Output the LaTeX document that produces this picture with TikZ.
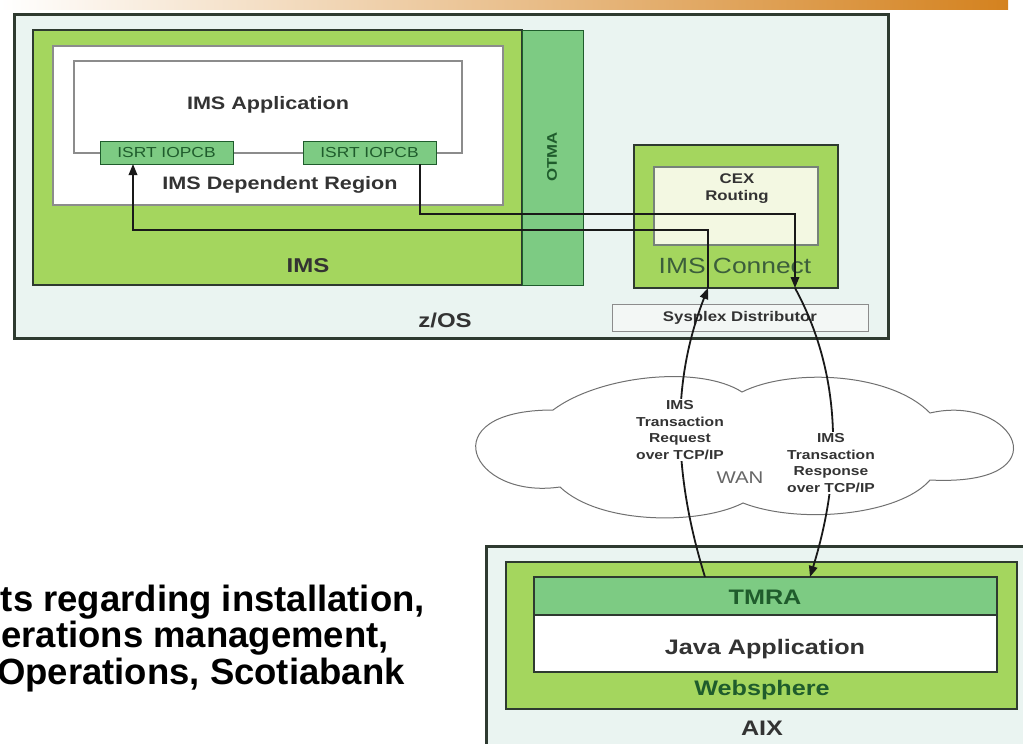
\documentclass[tikz,border=0pt]{standalone}
\usepackage{fontspec}
\setmainfont{Liberation Sans}
\newfontfamily\dg{Liberation Sans}[FakeStretch=1.2]
\usetikzlibrary{arrows.meta}
\definecolor{zosbg}{HTML}{EAF4F1}
\definecolor{imsg}{HTML}{A4D65E}
\definecolor{midg}{HTML}{7DCB83}
\definecolor{dkg}{HTML}{1F5C2C}
\definecolor{bord}{HTML}{2E3A30}
\definecolor{gbord}{HTML}{8C8C8C}
\definecolor{cexbg}{HTML}{F3F8E2}
\definecolor{txt}{HTML}{333333}
\definecolor{connc}{HTML}{3B5E3B}
\definecolor{orng}{HTML}{D4821F}
\definecolor{sysbg}{HTML}{F3F7F5}
\tikzset{
  box/.style={inner sep=0pt, outer sep=0pt, anchor=center},
  lbl/.style={inner sep=0pt, font=\dg\bfseries\fontsize{18}{21}\selectfont, text=txt},
  glbl/.style={inner sep=0pt, font=\dg\bfseries\fontsize{21}{24}\selectfont, text=dkg},
  conn/.style={line width=1.8pt, draw={black!90}},
  tip/.style={-{Triangle[length=11pt,width=8.5pt]}},
  cloudlbl/.style={fill=white, inner sep=2pt, align=center, text=txt,
     font=\dg\bfseries\fontsize{13}{16.5}\selectfont},
  bigtxt/.style={inner sep=0pt, anchor=base east, font=\bfseries\fontsize{36.5}{40}\selectfont}
}
\begin{document}
\begin{tikzpicture}[x=1pt,y=-1pt]
\useasboundingbox (0,0) rectangle (1023,744);
% top bar
\shade[left color=white, right color=orng] (0,0) rectangle (1008,9);
% z/OS
\node[box, draw=bord, line width=3pt, fill=zosbg, minimum width=874, minimum height=324] (zos) at (451,176) {};
\node[box, draw=bord, line width=1.2pt, fill=imsg, minimum width=489, minimum height=255] (ims) at (277.5,157.5) {};
\node[box, draw=dkg, line width=1pt, fill=midg, minimum width=61, minimum height=255] (otma) at (552.5,157.5) {};
\node[rotate=90, inner sep=0pt, font=\dg\bfseries\fontsize{14}{16}\selectfont, text=dkg] (otmat) at (552,157) {OTMA};
\node[box, draw=gbord, line width=1.5pt, fill=white, minimum width=450, minimum height=159] (dep) at (278,125.5) {};
\node[box, draw=gbord, line width=1.5pt, minimum width=388, minimum height=92] (app) at (268,107) {};
\node[box, draw=dkg, line width=1pt, fill=midg, minimum width=133, minimum height=23,
  font=\dg\fontsize{14.5}{16}\selectfont, text=dkg] (isrt1) at (166.5,152.5) {ISRT IOPCB};
\node[box, draw=dkg, line width=1pt, fill=midg, minimum width=133, minimum height=23,
  font=\dg\fontsize{14.5}{16}\selectfont, text=dkg] (isrt2) at (369.5,152.5) {ISRT IOPCB};
\node[lbl] (appt) at (268,105) {IMS Application};
\node[lbl] (dept) at (280,185) {IMS Dependent Region};
\node[lbl, font=\dg\bfseries\fontsize{20}{24}\selectfont] (imst) at (308,266) {IMS};
\node[lbl, font=\dg\bfseries\fontsize{20}{24}\selectfont] (zost) at (445,320) {z/OS};
% IMS Connect
\node[box, draw=bord, line width=1.5pt, fill=imsg, minimum width=204, minimum height=143] (imsc) at (736,216.5) {};
\node[box, draw={gbord!80!dkg}, line width=1.2pt, fill=cexbg, minimum width=164, minimum height=78] (cex) at (736,206) {};
\node[inner sep=0pt, align=center, text=txt, font=\dg\bfseries\fontsize{14}{17}\selectfont] (cext) at (737,189) {CEX\\Routing};
\node[inner sep=0pt, text=connc, font=\dg\fontsize{22}{26}\selectfont] (imsct) at (735,266) {IMS Connect};
\node[box, draw=gbord, line width=1pt, fill=sysbg, minimum width=256, minimum height=27,
  font=\dg\bfseries\fontsize{14}{16}\selectfont, text=txt] (sysplex) at (740,317.5) {Sysplex Distributor};
% AIX
\node[box, draw=bord, line width=3pt, fill=zosbg, minimum width=560, minimum height=220] (aix) at (766,656) {};
\node[box, draw=bord, line width=1.2pt, fill=imsg, minimum width=511, minimum height=147] (web) at (761.5,635.5) {};
\node[box, draw=bord, line width=1.2pt, fill=midg, minimum width=463, minimum height=38] (tmra) at (765.5,596) {};
\node[box, draw=bord, line width=1.2pt, fill=white, minimum width=463, minimum height=57] (java) at (765.5,643.5) {};
\node[glbl] (tmrat) at (765,597) {TMRA};
\node[glbl, text=txt] (javat) at (765,649) {Java Application};
\node[glbl] (webt) at (762,690) {Websphere};
\node[glbl, text=txt] (aixt) at (762,728) {AIX};
% cloud
\draw[draw=gbord!80!black, line width=1pt, fill=white]
  (553,410) .. controls (600,375) and (700,365) .. (742,392)
  .. controls (790,368) and (890,372) .. (930,413)
  .. controls (1015,393) and (1065,487) .. (930,480)
  .. controls (900,515) and (800,525) .. (743,503)
  .. controls (700,525) and (600,525) .. (560,487)
  .. controls (470,500) and (430,410) .. (553,410) -- cycle;
\node[inner sep=0pt, text=black!60, font=\dg\fontsize{17}{20}\selectfont] (wan) at (740,478) {WAN};
% helper coordinates
\coordinate (xreq) at (708,0);
\coordinate (xreqb) at (705,0);
\coordinate (xl) at (133,0);
\coordinate (yreq) at (0,230);
\coordinate (xrs) at (420,0);
\coordinate (yrs) at (0,214);
\coordinate (xrsc) at (795,0);
\coordinate (xrsb) at (810,0);
\coordinate (rqA) at (tmra.north -| xreqb);
\coordinate (rqB) at (imsc.south -| xreq);
\coordinate (rsS) at (isrt2.south -| xrs);
\coordinate (rsA) at (imsc.south -| xrsc);
\coordinate (rsB) at (tmra.north -| xrsb);
% connectors
\draw[conn, tip] (rqA) .. controls (672,470) and (672,380) .. (rqB);
\draw[conn, tip] (rqB) -- (rqB |- yreq) -| (isrt1.south -| xl);
\draw[conn, tip] (rsS) -- (rsS |- yrs) -| (rsA);
\draw[conn, tip] (rsA) .. controls (845,380) and (840,480) .. (rsB);
% cloud labels
\node[cloudlbl] (reqlbl) at (680,430) {IMS\\Transaction\\Request\\over TCP/IP};
\node[cloudlbl] (rsplbl) at (831,463) {IMS\\Transaction\\Response\\over TCP/IP};
% bottom-left text
\node[bigtxt] (b1) at (425,611) {ts regarding installation,};
\node[bigtxt] (b2) at (389,647) {erations management,};
\node[bigtxt] (b3) at (405,684) {Operations, Scotiabank};
\end{tikzpicture}
\end{document}
